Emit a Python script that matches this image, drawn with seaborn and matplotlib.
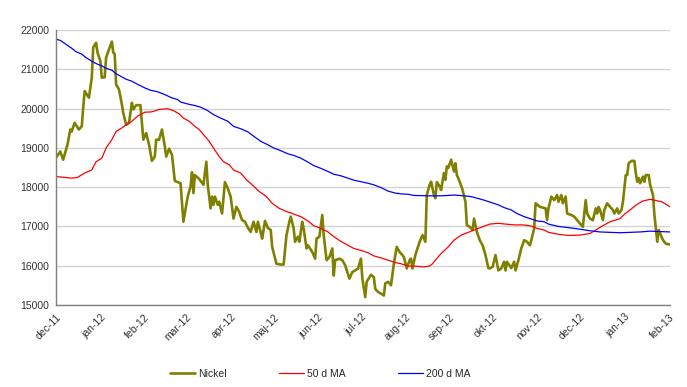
import pandas as pd
import matplotlib
matplotlib.use("Agg")
import matplotlib.pyplot as plt
import seaborn as sns

# Nickel (USD/t)
nickel_dates = [
    "2011-12-01", "2011-12-04", "2011-12-06", "2011-12-09", "2011-12-11", "2011-12-12",
    "2011-12-14", "2011-12-17", "2011-12-19", "2011-12-20", "2011-12-21", "2011-12-24",
    "2011-12-26", "2011-12-27", "2011-12-29", "2011-12-30", "2012-01-01", "2012-01-02",
    "2012-01-04", "2012-01-05", "2012-01-07", "2012-01-09", "2012-01-10", "2012-01-11",
    "2012-01-12", "2012-01-14", "2012-01-16", "2012-01-17", "2012-01-19", "2012-01-21",
    "2012-01-23", "2012-01-24", "2012-01-26", "2012-01-29", "2012-01-31", "2012-02-02",
    "2012-02-04", "2012-02-06", "2012-02-08", "2012-02-09", "2012-02-11", "2012-02-13",
    "2012-02-15", "2012-02-16", "2012-02-18", "2012-02-20", "2012-02-22", "2012-02-24",
    "2012-02-26", "2012-02-28", "2012-03-02", "2012-03-04", "2012-03-05", "2012-03-06",
    "2012-03-07", "2012-03-10", "2012-03-13", "2012-03-15", "2012-03-16", "2012-03-18",
    "2012-03-19", "2012-03-20", "2012-03-21", "2012-03-23", "2012-03-24", "2012-03-26",
    "2012-03-28", "2012-03-30", "2012-04-01", "2012-04-03", "2012-04-05", "2012-04-07",
    "2012-04-09", "2012-04-11", "2012-04-13", "2012-04-15", "2012-04-17", "2012-04-19",
    "2012-04-20", "2012-04-22", "2012-04-23", "2012-04-25", "2012-04-27", "2012-04-29",
    "2012-04-30", "2012-05-03", "2012-05-06", "2012-05-08", "2012-05-10", "2012-05-12",
    "2012-05-13", "2012-05-15", "2012-05-16", "2012-05-18", "2012-05-19", "2012-05-21",
    "2012-05-22", "2012-05-24", "2012-05-25", "2012-05-28", "2012-05-30", "2012-05-31",
    "2012-06-02", "2012-06-04", "2012-06-05", "2012-06-07", "2012-06-09", "2012-06-11",
    "2012-06-12", "2012-06-13", "2012-06-16", "2012-06-18", "2012-06-20", "2012-06-23",
    "2012-06-25", "2012-06-27", "2012-06-29", "2012-07-01", "2012-07-02", "2012-07-04",
    "2012-07-05", "2012-07-07", "2012-07-08", "2012-07-10", "2012-07-11", "2012-07-13",
    "2012-07-15", "2012-07-17", "2012-07-18", "2012-07-20", "2012-07-22", "2012-07-24",
    "2012-07-26", "2012-07-28", "2012-07-30", "2012-07-31", "2012-08-02", "2012-08-04",
    "2012-08-05", "2012-08-06", "2012-08-08", "2012-08-10", "2012-08-11", "2012-08-13",
    "2012-08-15", "2012-08-16", "2012-08-18", "2012-08-19", "2012-08-21", "2012-08-22",
    "2012-08-23", "2012-08-25", "2012-08-26", "2012-08-28", "2012-08-29", "2012-08-30",
    "2012-08-31", "2012-09-02", "2012-09-04", "2012-09-05", "2012-09-06", "2012-09-08",
    "2012-09-10", "2012-09-12", "2012-09-13", "2012-09-15", "2012-09-17", "2012-09-18",
    "2012-09-20", "2012-09-22", "2012-09-24", "2012-09-26", "2012-09-28", "2012-09-29",
    "2012-10-01", "2012-10-03", "2012-10-05", "2012-10-07", "2012-10-09", "2012-10-10",
    "2012-10-11", "2012-10-14", "2012-10-16", "2012-10-17", "2012-10-19", "2012-10-21",
    "2012-10-23", "2012-10-25", "2012-10-27", "2012-10-28", "2012-10-30", "2012-10-31",
    "2012-11-03", "2012-11-05", "2012-11-07", "2012-11-08", "2012-11-09", "2012-11-11",
    "2012-11-13", "2012-11-15", "2012-11-16", "2012-11-18", "2012-11-19", "2012-11-21",
    "2012-11-22", "2012-11-25", "2012-11-27", "2012-11-29", "2012-12-03", "2012-12-04",
    "2012-12-05", "2012-12-06", "2012-12-08", "2012-12-10", "2012-12-12", "2012-12-13",
    "2012-12-14", "2012-12-15", "2012-12-17", "2012-12-18", "2012-12-20", "2012-12-22",
    "2012-12-24", "2012-12-25", "2012-12-27", "2012-12-28", "2012-12-30", "2012-12-31",
    "2013-01-02", "2013-01-03", "2013-01-04", "2013-01-06", "2013-01-08", "2013-01-09",
    "2013-01-10", "2013-01-11", "2013-01-12", "2013-01-14", "2013-01-15", "2013-01-16",
    "2013-01-18", "2013-01-19", "2013-01-21", "2013-01-22", "2013-01-23", "2013-01-24",
    "2013-01-25", "2013-01-26", "2013-01-28", "2013-01-30", "2013-02-02",
]
nickel_values = [
    18750, 18910, 18700, 19080, 19470, 19420,
    19640, 19470, 19550, 20020, 20450, 20280,
    20790, 21560, 21680, 21430, 21210, 20790,
    20800, 21300, 21510, 21710, 21430, 21390,
    20620, 20490, 20110, 19890, 19590, 19640,
    20150, 19980, 20090, 20090, 19210, 19380,
    19080, 18670, 18780, 19210, 19210, 19470,
    19040, 18780, 18980, 18830, 18160, 18130,
    18100, 17120, 17760, 18020, 18380, 17850,
    18310, 18210, 18060, 18650, 18060, 17460,
    17760, 17550, 17760, 17550, 17630, 17330,
    18130, 17970, 17760, 17200, 17500, 17370,
    17160, 17120, 16970, 16860, 17120, 16860,
    17120, 16850, 16690, 17140, 16960, 16910,
    16480, 16050, 16030, 16030, 16780, 17120,
    17250, 16950, 16610, 16740, 16610, 17120,
    16950, 16440, 16520, 16350, 16180, 16690,
    16740, 17290, 16780, 16140, 16220, 16440,
    15750, 16140, 16180, 16140, 16010, 15670,
    15840, 15880, 15930, 16180, 15670, 15200,
    15590, 15710, 15770, 15710, 15410, 15330,
    15290, 15240, 15550, 15590, 15500, 16050,
    16480, 16350, 16270, 16220, 15930, 16140,
    16180, 15930, 16270, 16500, 16610, 16780,
    16610, 17800, 18060, 18140, 17800, 17720,
    18130, 18020, 17930, 18360, 18190, 18530,
    18490, 18700, 18400, 18610, 18310, 18140,
    17930, 17630, 17030, 16990, 16910, 17200,
    16860, 16650, 16520, 16270, 15940, 15930,
    15970, 16270, 15880, 15930, 16100, 15880,
    16100, 15940, 16100, 15880, 16140, 16440,
    16650, 16610, 16520, 16650, 16950, 17590,
    17500, 17480, 17460, 17160, 17460, 17760,
    17670, 17800, 17630, 17800, 17590, 17760,
    17330, 17290, 17250, 17160, 16990, 17330,
    17670, 17330, 17200, 17160, 17460, 17330,
    17500, 17420, 17160, 17420, 17590, 17500,
    17420, 17330, 17460, 17330, 17420, 17630,
    18310, 18310, 18610, 18670, 18670, 18360,
    18140, 18230, 18100, 18270, 18140, 18310,
    18310, 18060, 17800, 17290, 16950, 16610,
    16910, 16820, 16650, 16560, 16540,
]

# 50 dages glidende gennemsnit
ma50_dates = [
    "2011-12-01", "2011-12-07", "2011-12-12", "2011-12-16", "2011-12-21", "2011-12-26",
    "2011-12-29", "2012-01-02", "2012-01-05", "2012-01-09", "2012-01-12", "2012-01-16",
    "2012-01-19", "2012-01-23", "2012-01-27", "2012-02-01", "2012-02-06", "2012-02-11",
    "2012-02-17", "2012-02-21", "2012-02-25", "2012-02-28", "2012-03-03", "2012-03-07",
    "2012-03-10", "2012-03-13", "2012-03-17", "2012-03-20", "2012-03-24", "2012-03-27",
    "2012-03-31", "2012-04-03", "2012-04-08", "2012-04-12", "2012-04-16", "2012-04-21",
    "2012-04-26", "2012-04-30", "2012-05-05", "2012-05-10", "2012-05-14", "2012-05-20",
    "2012-05-25", "2012-05-29", "2012-06-03", "2012-06-08", "2012-06-12", "2012-06-17",
    "2012-06-22", "2012-06-26", "2012-07-01", "2012-07-06", "2012-07-10", "2012-07-15",
    "2012-07-20", "2012-07-25", "2012-07-29", "2012-08-03", "2012-08-07", "2012-08-14",
    "2012-08-18", "2012-08-20", "2012-08-22", "2012-08-26", "2012-08-31", "2012-09-04",
    "2012-09-09", "2012-09-14", "2012-09-18", "2012-09-23", "2012-09-29", "2012-10-05",
    "2012-10-10", "2012-10-16", "2012-10-22", "2012-10-28", "2012-11-01", "2012-11-06",
    "2012-11-09", "2012-11-16", "2012-11-23", "2012-12-01", "2012-12-08", "2012-12-12",
    "2012-12-17", "2012-12-22", "2012-12-29", "2013-01-01", "2013-01-05", "2013-01-09",
    "2013-01-14", "2013-01-19", "2013-01-22", "2013-01-27", "2013-02-02",
]
ma50_values = [
    18270, 18250, 18230, 18250, 18360, 18440,
    18650, 18740, 19000, 19210, 19420, 19510,
    19590, 19680, 19810, 19910, 19920, 19980,
    20000, 19950, 19870, 19760, 19680, 19550,
    19470, 19340, 19170, 19000, 18780, 18650,
    18570, 18440, 18360, 18190, 18060, 17890,
    17760, 17590, 17460, 17380, 17330, 17250,
    17140, 17020, 16950, 16860, 16740, 16620,
    16520, 16440, 16390, 16330, 16250, 16200,
    16140, 16080, 16050, 15990, 15990, 15970,
    15990, 16050, 16140, 16310, 16480, 16650,
    16780, 16850, 16910, 16980, 17060, 17080,
    17060, 17040, 17040, 17010, 16950, 16910,
    16850, 16800, 16770, 16780, 16820, 16910,
    17020, 17120, 17200, 17310, 17420, 17540,
    17650, 17690, 17670, 17630, 17500,
]

# 200 dages glidende gennemsnit
ma200_dates = [
    "2011-12-01", "2011-12-04", "2011-12-08", "2011-12-12", "2011-12-15", "2011-12-19",
    "2011-12-22", "2011-12-26", "2011-12-29", "2012-01-02", "2012-01-05", "2012-01-09",
    "2012-01-12", "2012-01-16", "2012-01-19", "2012-01-23", "2012-01-27", "2012-02-01",
    "2012-02-05", "2012-02-10", "2012-02-15", "2012-02-19", "2012-02-24", "2012-02-26",
    "2012-03-02", "2012-03-07", "2012-03-11", "2012-03-16", "2012-03-20", "2012-03-25",
    "2012-03-30", "2012-04-03", "2012-04-08", "2012-04-13", "2012-04-17", "2012-04-22",
    "2012-04-27", "2012-05-01", "2012-05-06", "2012-05-11", "2012-05-15", "2012-05-20",
    "2012-05-25", "2012-05-29", "2012-06-03", "2012-06-08", "2012-06-12", "2012-06-17",
    "2012-06-22", "2012-06-26", "2012-07-01", "2012-07-06", "2012-07-10", "2012-07-15",
    "2012-07-20", "2012-07-25", "2012-07-29", "2012-08-03", "2012-08-07", "2012-08-17",
    "2012-08-26", "2012-09-04", "2012-09-11", "2012-09-16", "2012-09-20", "2012-09-25",
    "2012-09-30", "2012-10-05", "2012-10-09", "2012-10-14", "2012-10-18", "2012-10-23",
    "2012-10-28", "2012-11-01", "2012-11-06", "2012-11-09", "2012-11-16", "2012-11-23",
    "2012-12-01", "2012-12-08", "2012-12-15", "2012-12-22", "2012-12-29", "2013-01-05",
    "2013-01-12", "2013-01-19", "2013-01-26", "2013-02-02",
]
ma200_values = [
    21770, 21740, 21640, 21540, 21450, 21390,
    21300, 21210, 21150, 21090, 21030, 20980,
    20890, 20810, 20750, 20700, 20620, 20530,
    20470, 20430, 20360, 20290, 20230, 20170,
    20120, 20080, 20040, 19950, 19850, 19760,
    19680, 19550, 19490, 19410, 19300, 19170,
    19080, 19000, 18930, 18850, 18810, 18740,
    18640, 18550, 18480, 18400, 18330, 18290,
    18230, 18180, 18140, 18100, 18060, 17990,
    17900, 17850, 17830, 17820, 17790, 17780,
    17780, 17800, 17780, 17760, 17720, 17670,
    17610, 17550, 17480, 17420, 17330, 17250,
    17190, 17140, 17120, 17060, 17000, 16970,
    16930, 16890, 16860, 16850, 16840, 16850,
    16860, 16880, 16870, 16860,
]

month_labels = ["dec-11", "jan-12", "feb-12", "mar-12", "apr-12", "maj-12", "jun-12",
                "jul-12", "aug-12", "sep-12", "okt-12", "nov-12", "dec-12", "jan-13", "feb-13"]

df_nickel = pd.DataFrame({"dato": pd.to_datetime(nickel_dates), "pris": nickel_values})
df_ma50 = pd.DataFrame({"dato": pd.to_datetime(ma50_dates), "pris": ma50_values})
df_ma200 = pd.DataFrame({"dato": pd.to_datetime(ma200_dates), "pris": ma200_values})

sns.set_style("white")
plt.rcParams["font.family"] = ["Liberation Sans", "DejaVu Sans"]

fig = plt.figure(figsize=(6.87, 3.87), dpi=100)
ax = fig.add_axes([0.0815, 0.212, 0.894, 0.71])

# Nickel først, glidende gennemsnit ovenpå (som i Excel)
sns.lineplot(data=df_nickel, x="dato", y="pris", ax=ax, color="#808000", linewidth=1.9, label="Nickel")
sns.lineplot(data=df_ma50, x="dato", y="pris", ax=ax, color="#ff0000", linewidth=0.9, label="50 d MA")
sns.lineplot(data=df_ma200, x="dato", y="pris", ax=ax, color="#0000ff", linewidth=0.9, label="200 d MA")

# Akser
ax.set_ylim(15000, 22000)
ax.set_yticks(range(15000, 22001, 1000))
ax.set_xlim(pd.Timestamp("2011-12-01"), pd.Timestamp("2013-02-02"))
month_starts = pd.date_range("2011-12-01", "2013-02-01", freq="MS")
ax.set_xticks(month_starts)
ax.set_xticklabels(month_labels, rotation=45, ha="right", rotation_mode="anchor")
ax.set_xlabel("")
ax.set_ylabel("")

ax.yaxis.grid(True, color="#d4d4d4", linewidth=1.0)
ax.set_axisbelow(True)
for side in ["top", "right"]:
    ax.spines[side].set_visible(False)
for side in ["left", "bottom"]:
    ax.spines[side].set_color("#7f7f7f")
    ax.spines[side].set_linewidth(1.0)
ax.tick_params(axis="both", labelsize=7.5, labelcolor="#333333", colors="#7f7f7f",
               length=3, width=1, direction="out", pad=2)
for lbl in ax.get_xticklabels() + ax.get_yticklabels():
    lbl.set_color("#333333")

# Legende under grafen
ax.get_legend().remove()
handles, labels = ax.get_legend_handles_labels()
fig.legend(handles, labels, loc="center", bbox_to_anchor=(0.466, 0.034), ncol=3,
           frameon=False, fontsize=7.5, handlelength=2.4, handletextpad=0.3, columnspacing=5.0)

fig.savefig("out.png", dpi=100)
